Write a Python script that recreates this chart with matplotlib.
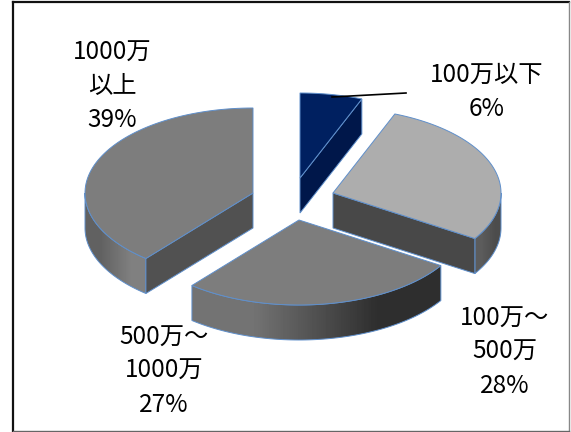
import numpy as np
import matplotlib
matplotlib.use("Agg")
import matplotlib.pyplot as plt
from matplotlib.patches import PathPatch, Polygon
from matplotlib.path import Path

plt.rcParams['font.family'] = ['Noto Sans CJK JP', 'DejaVu Sans']

# clockwise from 12 o'clock
shares = [6, 28, 27, 39]
labels = ['100万以下\n6%', '100万～\n500万\n28%', '500万～\n1000万\n27%', '1000万\n以上\n39%']

# slice centres on the picture (exploded)
cx = [300, 333, 299, 253]
cy = [178, 193, 220, 193]
top_col = ['#002060', '#adadad', '#7d7d7d', '#7d7d7d']
face_col = ['#00174a', '#484848', '#484848', '#515151']
rim_left = [0.0, 0.36, 0.45, 0.38]
rim_right = [0.0, 0.30, 0.18, 0.50]
label_x = [487, 505, 164, 112]
label_y = [92, 352, 371, 86]

RX, RY, DEPTH = 168, 85, 35
EDGE = '#5f8fcb'

fig = plt.figure(figsize=(5.71, 4.32), dpi=100)
ax = fig.add_axes([0, 0, 1, 1])
ax.set_xlim(0, 571)
ax.set_ylim(432, 0)
ax.axis('off')

# frame, the right and bottom sides are lighter
ax.plot([13, 569], [2, 2], color='#111111', lw=1.6)
ax.plot([13, 13], [2, 431], color='#111111', lw=1.6)
ax.plot([569, 569], [2, 430.5], color='#888888', lw=1.0)
ax.plot([13, 569], [430.5, 430.5], color='#666666', lw=1.0)


def rim_pt(c_x, c_y, deg):
    r = np.radians(deg)
    return c_x + RX * np.sin(r), c_y - RY * np.cos(r)


def arc(c_x, c_y, a0, a1):
    t = np.linspace(a0, a1, 80)
    return np.column_stack(rim_pt(c_x, c_y, t))


# work out the start and end angle of each slice
ends = np.cumsum(shares) / np.sum(shares) * 360
starts = np.r_[0, ends[:-1]]

z = 2
for i in [3, 0, 1, 2]:
    a0, a1 = starts[i], ends[i]
    x0, y0 = cx[i], cy[i]

    # side of the cylinder, lower half only
    lo, hi = max(a0, 90), min(a1, 270)
    if hi > lo:
        top = arc(x0, y0, lo, hi)
        low = top[::-1] + [0, DEPTH]
        verts = np.vstack([top, low, top[:1]])
        path = Path(verts, closed=True)
        xs = verts[:, 0]
        patch = PathPatch(path, fc='none', ec=EDGE, lw=0.7, zorder=z + 1)
        ax.add_patch(patch)
        im = ax.imshow([[rim_left[i], rim_right[i]]], cmap='gray', vmin=0, vmax=1,
                       extent=[xs.min(), xs.max(), verts[:, 1].max(), verts[:, 1].min()],
                       aspect='auto', interpolation='bilinear', zorder=z)
        im.set_clip_path(patch)

    # cut faces that look towards the viewer
    for a, test in [(a0, np.sin(np.radians(a0)) < -1e-6), (a1, np.sin(np.radians(a1)) > 1e-6)]:
        if test:
            px, py = rim_pt(x0, y0, a)
            ax.add_patch(Polygon([(x0, y0), (px, py), (px, py + DEPTH), (x0, y0 + DEPTH)],
                                 fc=face_col[i], ec=EDGE, lw=0.7, zorder=z + 1))

    # top of the slice
    ax.add_patch(Polygon(np.vstack([[x0, y0], arc(x0, y0, a0, a1)]),
                         fc=top_col[i], ec=EDGE, lw=0.7, zorder=z + 2))
    z += 3

# leader line for the small slice
ax.plot([332, 406], [97, 93], color='black', lw=1.2, zorder=z)

for i in range(len(labels)):
    ax.text(label_x[i], label_y[i], labels[i], ha='center', va='center',
            fontsize=17.5, linespacing=1.38, color='black', zorder=z)

ax.set_xlim(0, 571)
ax.set_ylim(432, 0)
fig.savefig('out.png', dpi=100)
